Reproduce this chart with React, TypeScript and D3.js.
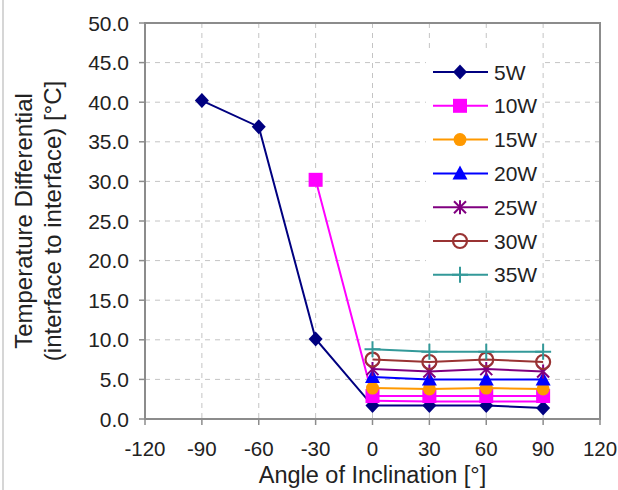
import React from "react";
import * as d3 from "d3";

const xTicks = [-120, -90, -60, -30, 0, 30, 60, 90, 120];
const yTicks = [0, 5, 10, 15, 20, 25, 30, 35, 40, 45, 50];

const angles5W = [-90, -60, -30, 0, 30, 60, 90];
const values5W = [40.2, 36.9, 10.1, 1.7, 1.7, 1.7, 1.4];
const angles10W = [-30, 0, 30, 60, 90];
const values10W = [30.2, 2.9, 2.9, 2.9, 2.9];
const values10Wb = [2.3, 2.2, 2.2, 2.2];
const anglesFlat = [0, 30, 60, 90];
const values15W = [3.9, 3.8, 3.9, 3.8];
const values20W = [5.3, 5.0, 5.0, 5.0];
const values25W = [6.3, 6.0, 6.3, 6.0];
const values30W = [7.5, 7.2, 7.5, 7.2];
const values35W = [8.8, 8.5, 8.5, 8.5];

type Marker = "diamond" | "square" | "circle" | "triangle" | "star" | "ocircle" | "plus" | "none";
interface Series {
  name: string;
  xs: number[];
  ys: number[];
  color: string;
  marker: Marker;
  legend: boolean;
}

const series: Series[] = [
  { name: "5W", xs: angles5W, ys: values5W, color: "#000080", marker: "diamond", legend: true },
  { name: "10W", xs: angles10W, ys: values10W, color: "#FF00FF", marker: "square", legend: true },
  { name: "10W-b", xs: anglesFlat, ys: values10Wb, color: "#FF00FF", marker: "none", legend: false },
  { name: "15W", xs: anglesFlat, ys: values15W, color: "#FF9900", marker: "circle", legend: true },
  { name: "20W", xs: anglesFlat, ys: values20W, color: "#0000FF", marker: "triangle", legend: true },
  { name: "25W", xs: anglesFlat, ys: values25W, color: "#800080", marker: "star", legend: true },
  { name: "30W", xs: anglesFlat, ys: values30W, color: "#993333", marker: "ocircle", legend: true },
  { name: "35W", xs: anglesFlat, ys: values35W, color: "#339999", marker: "plus", legend: true },
];

const W = 618;
const H = 490;
const L = 145, R = 600, T = 23, B = 419;
const FONT = "'Liberation Sans', Arial, Helvetica, sans-serif";

function markerEl(m: Marker, cx: number, cy: number, color: string, key: string) {
  switch (m) {
    case "diamond": {
      const p = d3.path();
      p.moveTo(cx, cy - 7.5); p.lineTo(cx + 7, cy); p.lineTo(cx, cy + 7.5); p.lineTo(cx - 7, cy); p.closePath();
      return <path key={key} d={p.toString()} fill={color} />;
    }
    case "square":
      return <rect key={key} x={cx - 7} y={cy - 7} width={14} height={14} fill={color} />;
    case "circle":
      return <circle key={key} cx={cx} cy={cy} r={6.5} fill={color} />;
    case "triangle": {
      const p = d3.path();
      p.moveTo(cx, cy - 8); p.lineTo(cx + 7.5, cy + 6); p.lineTo(cx - 7.5, cy + 6); p.closePath();
      return <path key={key} d={p.toString()} fill={color} />;
    }
    case "star": {
      const p = d3.path();
      p.moveTo(cx - 6, cy - 6); p.lineTo(cx + 6, cy + 6);
      p.moveTo(cx + 6, cy - 6); p.lineTo(cx - 6, cy + 6);
      p.moveTo(cx, cy - 7); p.lineTo(cx, cy + 7);
      return <path key={key} d={p.toString()} stroke={color} strokeWidth={2} fill="none" />;
    }
    case "ocircle":
      return <circle key={key} cx={cx} cy={cy} r={7} fill="none" stroke={color} strokeWidth={2.2} />;
    case "plus": {
      const p = d3.path();
      p.moveTo(cx - 8, cy); p.lineTo(cx + 8, cy);
      p.moveTo(cx, cy - 8); p.lineTo(cx, cy + 8);
      return <path key={key} d={p.toString()} stroke={color} strokeWidth={2} fill="none" />;
    }
    default:
      return null;
  }
}

export default function App() {
  const x = d3.scaleLinear().domain([-120, 120]).range([L, R]);
  const y = d3.scaleLinear().domain([0, 50]).range([B, T]);
  const line = d3.line<[number, number]>().x((d) => x(d[0])).y((d) => y(d[1]));

  const legendSeries = series.filter((s) => s.legend);
  const legX = 426, legY = 50, legW = 116, legH = 243;
  const rowY = (i: number) => 72 + i * 33.8;

  return (
    <svg width={W} height={H} style={{ position: "absolute", left: 0, top: 0, background: "#fff" }} fontFamily={FONT}>
      <rect x={0} y={0} width={W} height={H} fill="#fff" />
      <line x1={3} x2={3} y1={0} y2={H} stroke="#c8c8c8" strokeWidth={1.5} />
      {/* gridlines */}
      {yTicks.filter((t) => t > 0 && t < 50).map((t) => (
        <line key={"gy" + t} x1={L} x2={R} y1={y(t)} y2={y(t)} stroke="#c4c4c4" strokeWidth={1} strokeDasharray="5,5" />
      ))}
      {xTicks.filter((t) => t > -120 && t < 120).map((t) => (
        <line key={"gx" + t} x1={x(t)} x2={x(t)} y1={T} y2={B} stroke="#c4c4c4" strokeWidth={1} strokeDasharray="5,5" />
      ))}
      {/* legend background */}
      <rect x={legX} y={legY} width={legW} height={legH} fill="#fff" />
      {/* frame */}
      <rect x={L} y={T} width={R - L} height={B - T} fill="none" stroke="#8c8c8c" strokeWidth={2} />
      {/* ticks */}
      {yTicks.map((t) => (
        <line key={"ty" + t} x1={L - 6} x2={L} y1={y(t)} y2={y(t)} stroke="#8c8c8c" strokeWidth={1.5} />
      ))}
      {xTicks.map((t) => (
        <line key={"tx" + t} x1={x(t)} x2={x(t)} y1={B} y2={B + 6} stroke="#8c8c8c" strokeWidth={1.5} />
      ))}
      {/* tick labels */}
      {yTicks.map((t) => (
        <text key={"ly" + t} x={129} y={y(t)} dy="0.36em" textAnchor="end" fontSize={21} fill="#222">
          {t.toFixed(1)}
        </text>
      ))}
      {xTicks.map((t) => (
        <text key={"lx" + t} x={x(t)} y={456} textAnchor="middle" fontSize={20.5} fill="#222">
          {t}
        </text>
      ))}
      {/* axis titles */}
      <text x={(L + R) / 2} y={483} textAnchor="middle" fontSize={23.5} fill="#222">
        Angle of Inclination [°]
      </text>
      <g transform={`translate(0, ${(T + B) / 2}) rotate(-90)`}>
        <text x={0} y={32} textAnchor="middle" fontSize={24} fill="#222">Temperature Differential</text>
        <text x={0} y={61} textAnchor="middle" fontSize={24} fill="#222">(interface to interface) [°C]</text>
      </g>
      {/* series */}
      {series.map((s) => (
        <g key={s.name}>
          <path
            d={line(s.xs.map((v, i) => [v, s.ys[i]] as [number, number])) || ""}
            fill="none"
            stroke={s.color}
            strokeWidth={2}
          />
          {s.xs.map((v, i) => markerEl(s.marker, x(v), y(s.ys[i]), s.color, s.name + i))}
        </g>
      ))}
      {/* legend */}
      {legendSeries.map((s, i) => (
        <g key={"leg" + s.name}>
          <line x1={433} x2={488} y1={rowY(i)} y2={rowY(i)} stroke={s.color} strokeWidth={2} />
          {markerEl(s.marker, 460, rowY(i), s.color, "lm" + i)}
          <text x={494} y={rowY(i)} dy="0.36em" fontSize={21} fill="#222">{s.name}</text>
        </g>
      ))}
    </svg>
  );
}
